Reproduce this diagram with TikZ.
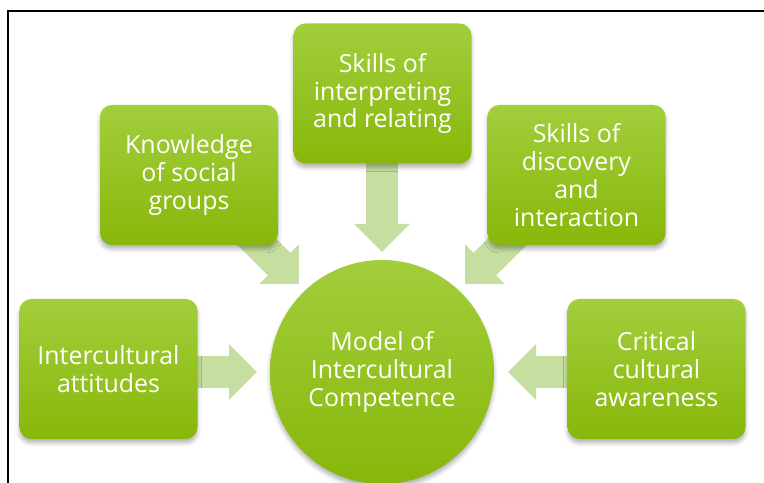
\documentclass[tikz,border=0pt]{standalone}
\usepackage{fontspec}
\setmainfont{Open Sans}
\usetikzlibrary{arrows.meta,shadows.blur,backgrounds}

\definecolor{boxtop}{RGB}{162,206,60}
\definecolor{boxbot}{RGB}{136,183,10}
\definecolor{flowgreen}{RGB}{198,223,160}

\begin{document}
\begin{tikzpicture}[x=1bp,y=1bp,
  topic/.style={rounded corners=12bp, minimum width=178bp, minimum height=140bp,
    top color=boxtop, bottom color=boxbot, text=white, align=center, inner sep=0pt,
    font=\fontsize{25}{28}\selectfont,
    blur shadow={shadow xshift=0bp, shadow yshift=-4bp, shadow blur radius=4bp, shadow opacity=30}},
  hub/.style={circle, minimum size=224bp, top color=boxtop, bottom color=boxbot,
    text=white, align=center, inner sep=0pt, font=\fontsize{25}{28}\selectfont,
    blur shadow={shadow xshift=0bp, shadow yshift=-4bp, shadow blur radius=4bp, shadow opacity=30}},
  flow/.style={draw=flowgreen, line width=32bp, -{Triangle[width=54bp,length=28bp]}}]

\useasboundingbox (0,0) rectangle (764,483);

% frame
\draw[line width=1.8bp] (8,0) -- (8,472) -- (764,472);

% topics and the central model
\node[topic] (knowledge) at (189,308) {Knowledge\\of social\\groups};
\node[topic] (interpret) at (382.5,389.5) {Skills of\\interpreting\\and relating};
\node[topic] (discovery) at (576.5,308) {Skills of\\discovery\\and\\interaction};
\node[topic] (attitudes) at (108.5,114) {Intercultural\\attitudes};
\node[topic] (critical) at (656.5,114) {Critical\\cultural\\awareness};
\node[hub] (model) at (382,111) {Model of\\Intercultural\\Competence};

% arrow ends
\coordinate (kTail) at (239,259);  \coordinate (kTip) at (299,199);
\coordinate (iTail) at (382,333);  \coordinate (iTip) at (382,231);
\coordinate (dTail) at (525,259);  \coordinate (dTip) at (465,199);
\coordinate (aTail) at (185,111);  \coordinate (aTip) at (257,111);
\coordinate (cTail) at (580,111);  \coordinate (cTip) at (508,111);

\begin{scope}[on background layer]
  \draw[flow] (kTail) -- (kTip);
  \draw[flow] (iTail) -- (iTip);
  \draw[flow] (dTail) -- (dTip);
  \draw[flow] (aTail) -- (aTip);
  \draw[flow] (cTail) -- (cTip);
\end{scope}
\end{tikzpicture}
\end{document}
